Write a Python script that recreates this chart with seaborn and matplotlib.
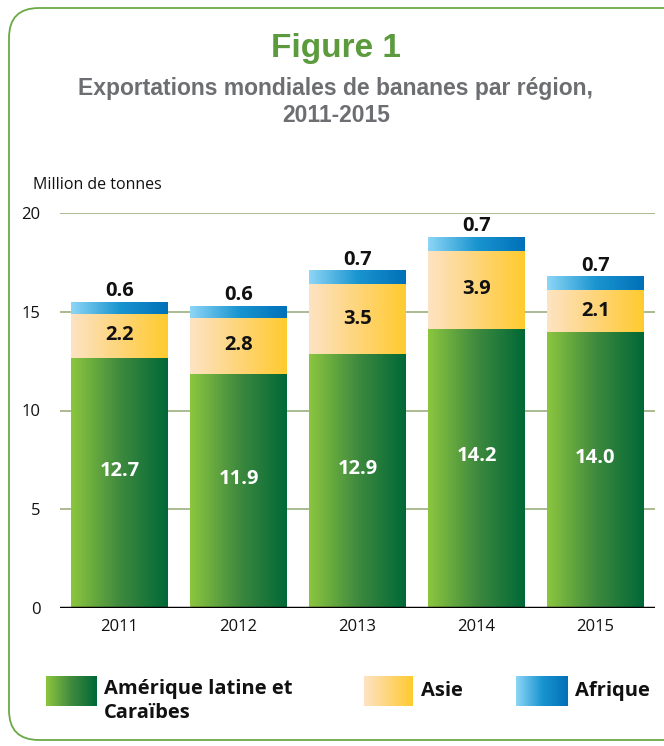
import numpy as np
import pandas as pd
import matplotlib
matplotlib.use("Agg")
import matplotlib.pyplot as plt
import seaborn as sns
from matplotlib.patches import FancyBboxPatch
from matplotlib.colors import LinearSegmentedColormap

years = ["2011", "2012", "2013", "2014", "2015"]
latin = [12.7, 11.9, 12.9, 14.2, 14.0]
asia = [2.2, 2.8, 3.5, 3.9, 2.1]
africa = [0.6, 0.6, 0.7, 0.7, 0.7]
series_names = ["Amérique latine et\nCaraïbes", "Asie", "Afrique"]
yticks = [0, 5, 10, 15, 20]

cmaps = [
    LinearSegmentedColormap.from_list("g", ["#8cc63f", "#3f8a3e", "#006837"]),
    LinearSegmentedColormap.from_list("y", ["#fde3c4", "#fed57a", "#ffcb2e"]),
    LinearSegmentedColormap.from_list("b", ["#8dd6f6", "#1a95d0", "#0070b8"]),
]

sns.set_theme(style="white")
plt.rcParams['font.family'] = ['Open Sans', 'DejaVu Sans']

fig = plt.figure(figsize=(6.64, 7.46), dpi=100)
ax = fig.add_axes([60/664, 138/746, 595/664, 395/746])

df = pd.DataFrame({"year": years, "latin": latin, "asia": asia, "africa": africa})
df["b1"] = df["latin"]
df["b2"] = df["latin"] + df["asia"]
df["b3"] = df["b2"] + df["africa"]

grad = np.linspace(0, 1, 256).reshape(1, -1)
layers = [("b3", 2), ("b2", 1), ("b1", 0)]
all_patches = []
for col, ci in layers:
    n_before = len(ax.patches)
    sns.barplot(data=df, x="year", y=col, color="white", width=0.81, ax=ax,
                saturation=1, linewidth=0, zorder=3)
    new = ax.patches[n_before:]
    all_patches.append((ci, new))

ax.set_xlim(-0.5, 4.5)
ax.set_ylim(0, 20)
for ci, patches in all_patches:
    for p in patches:
        x0 = p.get_x()
        w, h = p.get_width(), p.get_height()
        idx = round(x0 + w / 2)
        if ci == 2:
            bot = h - africa[idx]
        elif ci == 1:
            bot = h - asia[idx] - 0.05
        else:
            bot = 0
        im = ax.imshow(grad, cmap=cmaps[ci], aspect="auto",
                       extent=[x0, x0 + w, bot, h], zorder=4 + ci * 0.1)
        im.set_clip_path(p)

ax.set_xlim(-0.5, 4.5)
ax.set_ylim(0, 20)

for i in range(len(years)):
    ax.text(i, latin[i] / 2 + 0.6, f"{latin[i]:.1f}", ha="center", va="center",
            color="white", fontsize=14.5, fontweight="bold", zorder=6)
    ax.text(i, latin[i] + asia[i] / 2, f"{asia[i]:.1f}", ha="center", va="center",
            color="#111111", fontsize=14.5, fontweight="bold", zorder=6)
    ax.text(i, latin[i] + asia[i] + africa[i] + 0.02, f"{africa[i]:.1f}", ha="center",
            va="bottom", color="#111111", fontsize=14.5, fontweight="bold", zorder=6)

for y in yticks[1:]:
    ax.axhline(y, color="#a3b489", lw=1.3, zorder=1)
ax.axhline(0, color="black", lw=2.5, zorder=7)
for s in ax.spines.values():
    s.set_visible(False)
ax.set_yticks(yticks)
ax.set_yticklabels([str(t) for t in yticks], fontsize=12)
ax.tick_params(axis="both", length=0, pad=8, colors="#111111")
ax.tick_params(axis="y", pad=14)
ax.set_xticks(range(len(years)))
ax.set_xticklabels(years, fontsize=12)
ax.set_xlabel("")
ax.set_ylabel("")
ax.patch.set_alpha(0)

# border
border = FancyBboxPatch((9/664, 6/746), 700/664, 732/746,
                        boxstyle="round,pad=0,rounding_size=0.045",
                        transform=fig.transFigure, facecolor="none",
                        edgecolor="#6aaa45", lw=1.3, mutation_aspect=664/746)
fig.patches.append(border)

fig.text(336/664, 1 - 49/746, "Figure 1", ha="center", va="center",
         color="#5b9b3d", fontsize=24, fontweight="bold", family=["Liberation Sans", "DejaVu Sans"])
fig.text(336/664, 1 - 102/746, "Exportations mondiales de bananes par région,\n2011-2015",
         ha="center", va="center", color="#6d6e71", fontsize=16.5, fontweight="bold",
         family=["Liberation Sans", "DejaVu Sans"], linespacing=1.2)
fig.text(33/664, 1 - 185/746, "Million de tonnes", ha="left", va="center",
         color="#111111", fontsize=11.5)

# legend
leg_items = [(46, 97, 104), (364, 413, 421), (516, 568, 575)]
for k, (xa, xb, xt) in enumerate(leg_items):
    lax = fig.add_axes([xa/664, 1 - 706/746, (xb - xa)/664, 30/746])
    lax.imshow(grad, cmap=cmaps[k], aspect="auto")
    lax.set_axis_off()
    if k == 0:
        fig.text(xt/664, 1 - 679/746, series_names[k], ha="left", va="top",
                 color="#111111", fontsize=14.5, fontweight="bold", linespacing=1.3)
    else:
        fig.text(xt/664, 1 - 691/746, series_names[k], ha="left", va="center",
                 color="#111111", fontsize=14.5, fontweight="bold")

fig.savefig("out.png", dpi=100)
